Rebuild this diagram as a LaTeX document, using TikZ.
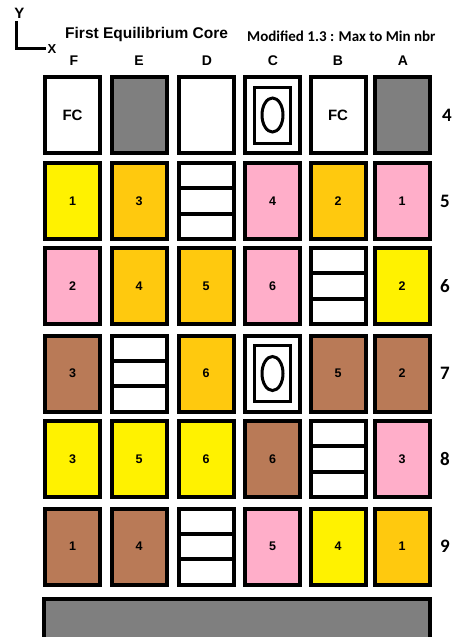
\documentclass[tikz,border=0pt]{standalone}
\usepackage{fontspec}
\setmainfont{Liberation Sans}
\newfontfamily\calibrifont{Carlito}
\usepackage{tikz}
\usetikzlibrary{positioning}
\definecolor{coreyellow}{RGB}{255,242,0}
\definecolor{coreorange}{RGB}{255,201,14}
\definecolor{corepink}  {RGB}{255,174,201}
\definecolor{corebrown} {RGB}{185,122,87}
\definecolor{coregray}  {RGB}{127,127,127}
\tikzset{
  cellbox/.style={
    draw=black, line width=4pt, fill=white,
    minimum width=55pt, minimum height=76pt, inner sep=0pt,
    font=\fontsize{12.5}{14}\selectfont\bfseries
  },
  cellyellow/.style={cellbox, fill=coreyellow},
  cellorange/.style={cellbox, fill=coreorange},
  cellpink/.style={cellbox, fill=corepink},
  cellbrown/.style={cellbox, fill=corebrown},
  cellgray/.style={cellbox, fill=coregray},
  cellfc/.style={cellbox, font=\fontsize{15}{17}\selectfont\bfseries},
  cellstripes/.style={
    cellbox,
    path picture={
      \draw[line width=4pt]
        ([yshift=-25.3pt]path picture bounding box.north west) --
        ([yshift=-25.3pt]path picture bounding box.north east);
      \draw[line width=4pt]
        ([yshift=25.3pt]path picture bounding box.south west) --
        ([yshift=25.3pt]path picture bounding box.south east);
    }
  },
  cellcore/.style={
    cellbox,
    path picture={
      \draw[line width=3pt]
        ([shift={(-18pt,-28pt)}]path picture bounding box.center) rectangle
        ([shift={(18pt,28pt)}]path picture bounding box.center);
      \draw[line width=3pt] (path picture bounding box.center)
        ellipse [x radius=10.5pt, y radius=17pt];
    }
  },
  collabel/.style={font=\fontsize{14}{16}\selectfont\bfseries, inner sep=0pt},
  rowlabel/.style={font=\calibrifont\fontsize{19}{21}\selectfont\bfseries, inner sep=0pt},
  axisline/.style={line width=3.2pt},
}
\begin{document}
\begin{tikzpicture}[x=1pt, y=-1pt]
  \useasboundingbox (0,0) rectangle (462,637);

  % Axes and titles
  \coordinate (axistop)    at (16.5,21);
  \coordinate (axiscorner) at (16.5,48.5);
  \coordinate (axisend)    at (46,48.5);
  \draw[axisline] (axistop) -- (axiscorner) -- (axisend);
  \node[font=\fontsize{15}{17}\selectfont\bfseries, inner sep=0pt] (ylabel) at (19.5,13) {Y};
  \node[font=\fontsize{13}{15}\selectfont\bfseries, inner sep=0pt] (xlabel) at (52,49) {X};
  \node[font=\fontsize{15.5}{18}\selectfont\bfseries, inner sep=0pt, anchor=base west]
    (title) at (65,38.5) {First Equilibrium Core};
  \node[font=\calibrifont\fontsize{15}{18}\selectfont\bfseries, inner sep=0pt, anchor=base west]
    (subtitle) at (247,41.5) {Modified 1.3 : Max to Min nbr};

  % Column labels
  \node[collabel, anchor=base] (colF) at (74,65.5)  {F};
  \node[collabel, anchor=base] (colE) at (139,65.5) {E};
  \node[collabel, anchor=base] (colD) at (207,65.5) {D};
  \node[collabel, anchor=base] (colC) at (273,65.5) {C};
  \node[collabel, anchor=base] (colB) at (338,65.5) {B};
  \node[collabel, anchor=base] (colA) at (403,65.5) {A};

  % Row 4
  \node[cellfc]      (F4) at (72.5,115) {FC};
  \node[cellgray]    (E4) at (139,115)  {};
  \node[cellbox]     (D4) at (206,115)  {};
  \node[cellcore]    (C4) at (272.5,115) {};
  \node[cellfc]      (B4) at (338,115)  {FC};
  \node[cellgray]    (A4) at (402,115)  {};

  % Row 5
  \node[cellyellow]  (F5) at (72.5,201) {1};
  \node[cellorange]  (E5) at (139,201)  {3};
  \node[cellstripes] (D5) at (206,201)  {};
  \node[cellpink]    (C5) at (272.5,201) {4};
  \node[cellorange]  (B5) at (338,201)  {2};
  \node[cellpink]    (A5) at (402,201)  {1};

  % Row 6
  \node[cellpink]    (F6) at (72.5,286) {2};
  \node[cellorange]  (E6) at (139,286)  {4};
  \node[cellorange]  (D6) at (206,286)  {5};
  \node[cellpink]    (C6) at (272.5,286) {6};
  \node[cellstripes] (B6) at (338,286)  {};
  \node[cellyellow]  (A6) at (402,286)  {2};

  % Row 7
  \node[cellbrown]   (F7) at (72.5,373.5) {3};
  \node[cellstripes] (E7) at (139,373.5)  {};
  \node[cellorange]  (D7) at (206,373.5)  {6};
  \node[cellcore]    (C7) at (272.5,373.5) {};
  \node[cellbrown]   (B7) at (338,373.5)  {5};
  \node[cellbrown]   (A7) at (402,373.5)  {2};

  % Row 8
  \node[cellyellow]  (F8) at (72.5,459) {3};
  \node[cellyellow]  (E8) at (139,459)  {5};
  \node[cellyellow]  (D8) at (206,459)  {6};
  \node[cellbrown]   (C8) at (272.5,459) {6};
  \node[cellstripes] (B8) at (338,459)  {};
  \node[cellpink]    (A8) at (402,459)  {3};

  % Row 9
  \node[cellbrown]   (F9) at (72.5,546.5) {1};
  \node[cellbrown]   (E9) at (139,546.5)  {4};
  \node[cellstripes] (D9) at (206,546.5)  {};
  \node[cellpink]    (C9) at (272.5,546.5) {5};
  \node[cellyellow]  (B9) at (338,546.5)  {4};
  \node[cellorange]  (A9) at (402,546.5)  {1};

  % Row labels
  \node[rowlabel] (row4) at (447,115)   {4};
  \node[rowlabel] (row5) at (445,201)   {5};
  \node[rowlabel] (row6) at (445,286)   {6};
  \node[rowlabel] (row7) at (445,373.5) {7};
  \node[rowlabel] (row8) at (445,459)   {8};
  \node[rowlabel] (row9) at (445,546.5) {9};

  % Base plate
  \node[cellgray, minimum width=386pt, minimum height=80pt, anchor=north]
    (base) at (237,597) {};
\end{tikzpicture}
\end{document}
